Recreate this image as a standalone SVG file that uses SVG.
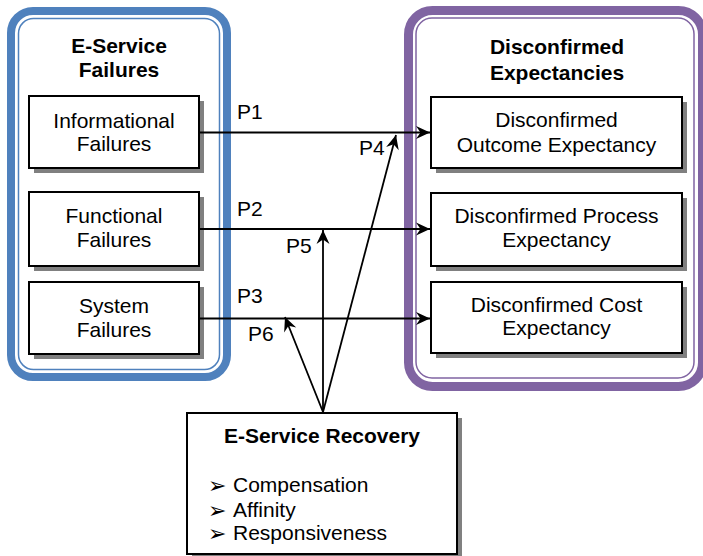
<svg xmlns="http://www.w3.org/2000/svg" width="703" height="556" viewBox="0 0 703 556">
<defs>
<style>
text{font-family:"Liberation Sans",Arial,sans-serif;font-size:21px;fill:#000}
.b{font-weight:bold}
.m{text-anchor:middle}
.box{fill:#fff;stroke:#000;stroke-width:2}
.sh{fill:#808080}
.ln{stroke:#000;stroke-width:1.8;fill:none}
.bul{font-family:"DejaVu Sans",sans-serif;font-size:22px}
</style>
<marker id="ah" markerUnits="userSpaceOnUse" markerWidth="16" markerHeight="14" viewBox="-15 -7 16 14" refX="0" refY="0" orient="auto">
<path d="M0,0 L-14,-6.5 L-9.5,0 L-14,6.5 Z" fill="#000"/>
</marker>
</defs>
<rect width="703" height="556" fill="#fff"/>

<g id="failures-group">
<rect x="11" y="11" width="216" height="366" rx="22" fill="#fff" stroke="#4F81BD" stroke-width="8"/>
<rect x="18.5" y="18.5" width="201" height="351" rx="15" fill="none" stroke="#4F81BD" stroke-width="1.5"/>
<text class="b m" x="119" y="53">E-Service</text>
<text class="b m" x="119" y="77">Failures</text>
</g>

<g id="expectancies-group">
<rect x="408.5" y="10.5" width="294" height="376" rx="24" fill="#fff" stroke="#8064A2" stroke-width="9"/>
<rect x="416" y="18" width="278" height="360" rx="16" fill="none" stroke="#8064A2" stroke-width="1.5"/>
<text class="b m" x="557" y="54">Disconfirmed</text>
<text class="b m" x="557" y="80">Expectancies</text>
</g>

<g id="informational">
<rect class="sh" x="34" y="101" width="170" height="72"/>
<rect class="box" x="29" y="96" width="170" height="72"/>
<text class="m" x="114" y="128">Informational</text>
<text class="m" x="114" y="151">Failures</text>
</g>
<g id="functional">
<rect class="sh" x="34" y="197" width="170" height="74"/>
<rect class="box" x="29" y="192" width="170" height="74"/>
<text class="m" x="114" y="223">Functional</text>
<text class="m" x="114" y="247">Failures</text>
</g>
<g id="system">
<rect class="sh" x="34" y="287" width="170" height="72"/>
<rect class="box" x="29" y="282" width="170" height="72"/>
<text class="m" x="114" y="313">System</text>
<text class="m" x="114" y="337">Failures</text>
</g>

<g id="outcome">
<rect class="sh" x="436" y="102" width="251" height="71"/>
<rect class="box" x="431" y="97" width="251" height="71"/>
<text class="m" x="556.5" y="127">Disconfirmed</text>
<text class="m" x="556.5" y="152">Outcome Expectancy</text>
</g>
<g id="process">
<rect class="sh" x="436" y="198" width="251" height="73"/>
<rect class="box" x="431" y="193" width="251" height="73"/>
<text class="m" x="556.5" y="223">Disconfirmed Process</text>
<text class="m" x="556.5" y="247">Expectancy</text>
</g>
<g id="cost">
<rect class="sh" x="436" y="287" width="251" height="71"/>
<rect class="box" x="431" y="282" width="251" height="71"/>
<text class="m" x="556.5" y="312">Disconfirmed Cost</text>
<text class="m" x="556.5" y="335">Expectancy</text>
</g>

<g id="recovery">
<rect class="sh" x="192" y="418" width="270" height="141"/>
<rect class="box" x="187" y="413" width="270" height="141"/>
<text class="b m" x="322" y="443">E-Service Recovery</text>
<text class="bul" x="208" y="493">➢</text>
<text x="233" y="492">Compensation</text>
<text class="bul" x="208" y="518">➢</text>
<text x="233" y="517">Affinity</text>
<text class="bul" x="208" y="541">➢</text>
<text x="233" y="540">Responsiveness</text>
</g>

<g id="connectors">
<line class="ln" x1="200" y1="132.5" x2="430" y2="132.5" marker-end="url(#ah)"/>
<line class="ln" x1="200" y1="229" x2="430" y2="229" marker-end="url(#ah)"/>
<line class="ln" x1="200" y1="318.5" x2="430" y2="318.5" marker-end="url(#ah)"/>
<line class="ln" x1="323" y1="412" x2="323" y2="230" marker-end="url(#ah)"/>
<line class="ln" x1="323" y1="412" x2="396" y2="135" marker-end="url(#ah)"/>
<line class="ln" x1="323" y1="412" x2="285" y2="317" marker-end="url(#ah)"/>
<text x="237" y="119">P1</text>
<text x="237" y="216">P2</text>
<text x="237" y="303">P3</text>
<text x="359" y="155">P4</text>
<text x="286" y="253">P5</text>
<text x="248" y="341">P6</text>
</g>
</svg>
